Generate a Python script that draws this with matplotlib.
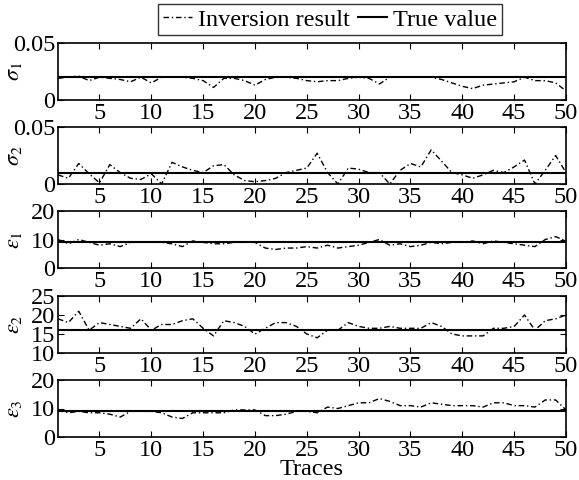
import numpy as np
from matplotlib import pyplot as plt

traces = np.arange(1, 51)

sigma1_inv = [0.019, 0.020, 0.021, 0.017, 0.020, 0.019, 0.018, 0.016, 0.020, 0.015,
              0.020, 0.020, 0.020, 0.019, 0.017, 0.011, 0.019, 0.019, 0.017, 0.013,
              0.018, 0.020, 0.020, 0.019, 0.017, 0.016, 0.017, 0.017, 0.019, 0.020,
              0.019, 0.014, 0.020, 0.020, 0.020, 0.020, 0.020, 0.018, 0.015, 0.012,
              0.010, 0.013, 0.014, 0.015, 0.016, 0.020, 0.017, 0.017, 0.015, 0.008]
sigma1_true = 0.02

sigma2_inv = [0.008, 0.005, 0.018, 0.009, 0.001, 0.017, 0.010, 0.005, 0.004, 0.009,
              0.000, 0.019, 0.015, 0.012, 0.010, 0.016, 0.017, 0.008, 0.003, 0.002,
              0.003, 0.005, 0.010, 0.012, 0.014, 0.027, 0.010, 0.000, 0.014, 0.013,
              0.010, 0.010, 0.000, 0.012, 0.018, 0.015, 0.030, 0.020, 0.010, 0.008,
              0.005, 0.008, 0.012, 0.010, 0.015, 0.021, 0.000, 0.012, 0.025, 0.010]
sigma2_true = 0.01

eps1_inv = [10, 8.5, 10, 9, 8, 8.5, 7.5, 9, 9, 9,
            9, 8.5, 7.5, 9.5, 9, 8.5, 8.5, 9, 9, 9,
            7, 6.5, 7, 7, 7.5, 7, 8, 7, 7.5, 8,
            9, 10, 8, 8.5, 7.5, 8, 9, 8.5, 9, 9,
            9.5, 8.5, 9.5, 9, 8.5, 8, 7.5, 10, 11, 9.5]
eps1_true = 9

eps2_inv = [19, 18, 21, 16, 18, 17.5, 17, 16.5, 19, 16,
            17.5, 17.5, 18.5, 19, 16.5, 14.5, 18.5, 18, 17, 15,
            16.5, 18, 18, 17, 15, 14, 16, 16, 18, 17,
            16.5, 16.5, 17, 16.5, 16.5, 16.5, 18, 17, 15, 14.5,
            14.5, 14.5, 16.5, 16.5, 17, 20, 16, 18.5, 19, 20]
eps2_true = 16

eps3_inv = [9.5, 8.5, 9, 8.5, 8.5, 8, 7, 9, 9, 9,
            8.5, 7, 6.5, 8.5, 8.5, 8.5, 8.5, 9.5, 9.5, 9.5,
            7.5, 7.5, 8, 9, 9, 8.5, 10.5, 10, 11, 12,
            12, 13.5, 12.5, 11, 11, 10.5, 12, 11.5, 11, 11,
            11, 10.5, 12, 12, 11, 11, 10.5, 13, 13, 9.5]
eps3_true = 9

labels = [r'$\sigma_1$', r'$\sigma_2$', r'$\varepsilon_1$', r'$\varepsilon_2$', r'$\varepsilon_3$']
ylims = [(0, 0.05), (0, 0.05), (0, 20), (10, 25), (0, 20)]
yticks = [[0, 0.05], [0, 0.05], [0, 10, 20], [10, 15, 20, 25], [0, 10, 20]]
ytlabels = [['0', '0.05'], ['0', '0.05'], ['0', '10', '20'], ['10', '15', '20', '25'], ['0', '10', '20']]
inv_all = [sigma1_inv, sigma2_inv, eps1_inv, eps2_inv, eps3_inv]
true_all = [sigma1_true, sigma2_true, eps1_true, eps2_true, eps3_true]

plt.rcParams['font.family'] = ['Liberation Serif', 'DejaVu Serif']
plt.rcParams['mathtext.fontset'] = 'stix'
plt.rcParams['font.size'] = 17.5

fig = plt.figure(figsize=(5.79, 4.8), dpi=100)

tops = [43, 127, 211, 296, 380]
h = 57
for i in range(5):
    ax = fig.add_axes([58 / 579, 1 - (tops[i] + h) / 480, 508 / 579, h / 480])
    l1, = ax.plot(traces, inv_all[i], color='black', lw=1.0, linestyle=(0, (4, 2, 1, 2)))
    l2 = ax.axhline(true_all[i], color='black', lw=1.5)
    ax.set_xlim(1, 50)
    ax.set_ylim(*ylims[i])
    ax.set_xticks(range(5, 51, 5))
    ax.set_yticks(yticks[i])
    ax.set_yticklabels(ytlabels[i])
    ax.tick_params(direction='in', top=True, right=True, length=4, pad=2)
    ax.set_ylabel(labels[i], fontsize=16)
    ax.yaxis.set_label_coords(-0.066, 0.5)
    for s in ax.spines.values():
        s.set_linewidth(1.2)
    if i == 4:
        ax.set_xlabel('Traces', labelpad=-1)

fig.legend([l1, l2], ['Inversion result', 'True value'], loc='upper center',
           bbox_to_anchor=(0.57, 1.0), ncol=2, frameon=True, fancybox=False,
           edgecolor='black', borderpad=0.2, handlelength=1.2, handletextpad=0.25,
           columnspacing=0.35, borderaxespad=0.15)

fig.savefig('out.png', dpi=100)
